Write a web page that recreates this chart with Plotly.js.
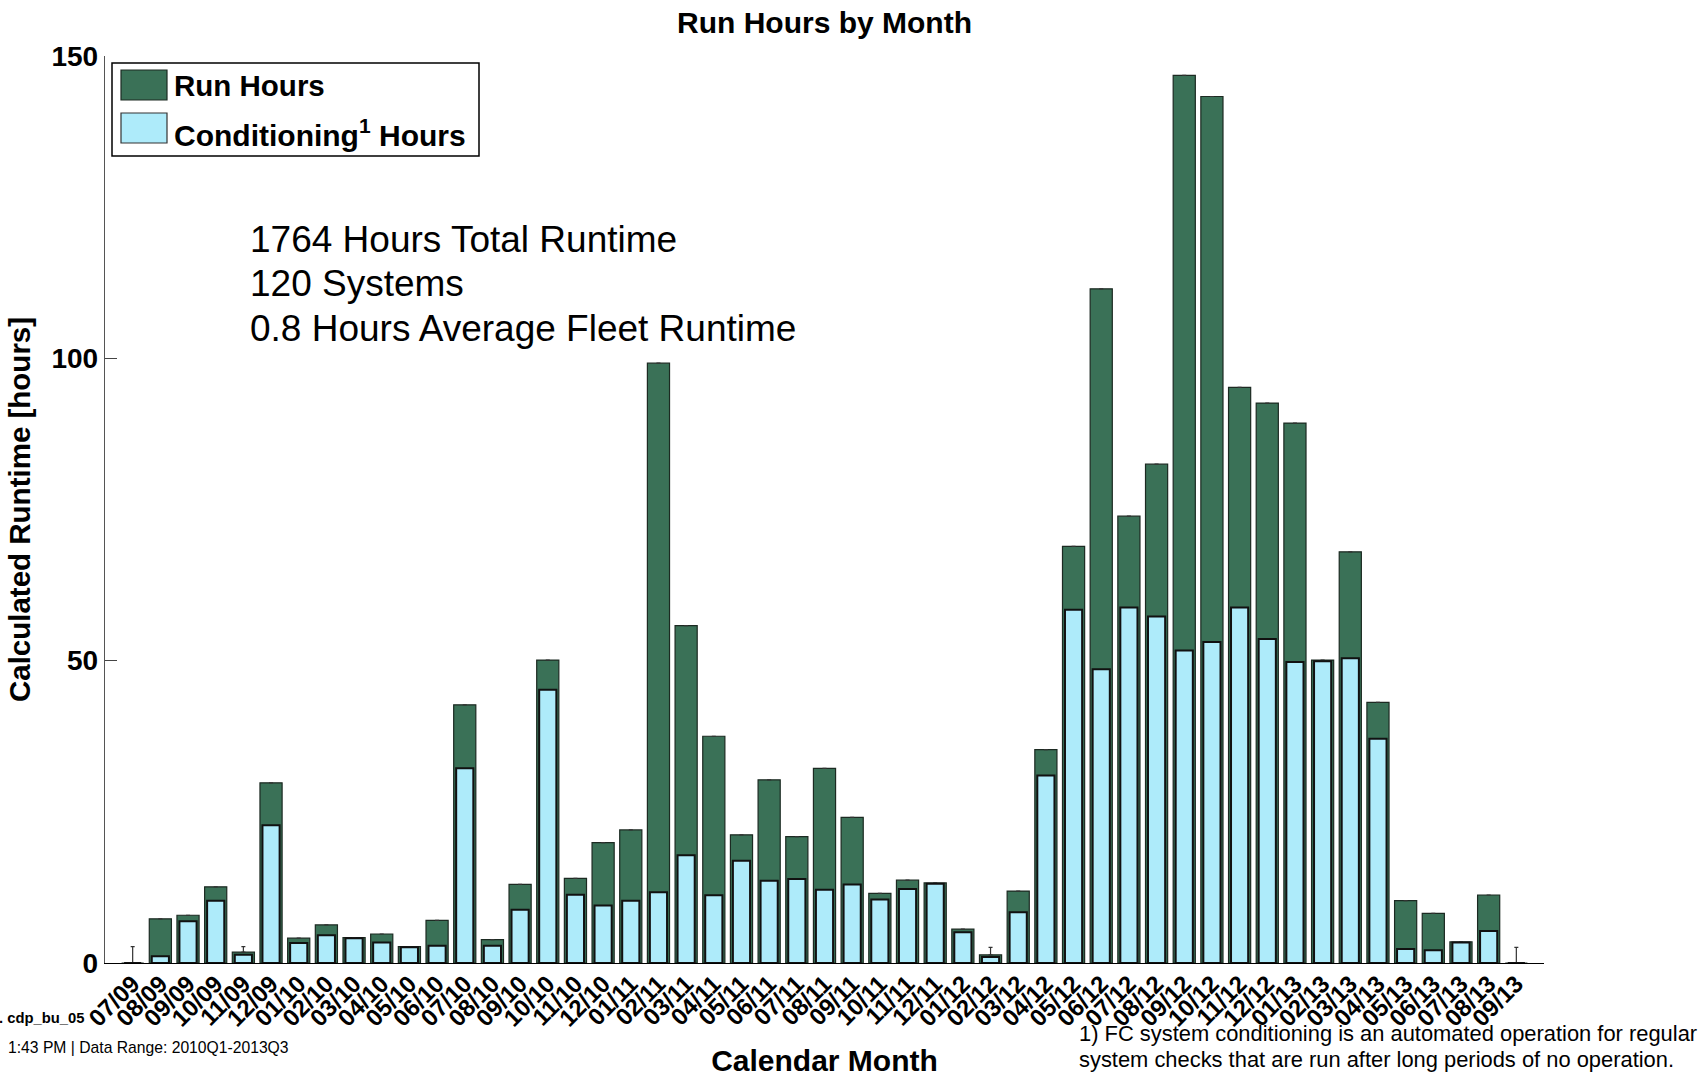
<!DOCTYPE html>
<html>
<head>
<meta charset="utf-8">
<script src="https://cdn.plot.ly/plotly-3.0.1.min.js"></script>
<style>
  html, body { margin: 0; padding: 0; background: #ffffff; }
  #chart { width: 1702px; height: 1077px; }
</style>
</head>
<body>
<div id="chart"></div>
<script>
// ---- data ----
const months = [
  "07/09","08/09","09/09","10/09","11/09","12/09",
  "01/10","02/10","03/10","04/10","05/10","06/10","07/10","08/10","09/10","10/10","11/10","12/10",
  "01/11","02/11","03/11","04/11","05/11","06/11","07/11","08/11","09/11","10/11","11/11","12/11",
  "01/12","02/12","03/12","04/12","05/12","06/12","07/12","08/12","09/12","10/12","11/12","12/12",
  "01/13","02/13","03/13","04/13","05/13","06/13","07/13","08/13","09/13"
];
const runHours = [
  0, 7.3, 7.9, 12.6, 1.8, 29.8,
  4.1, 6.3, 4.2, 4.8, 2.7, 7.05, 42.7, 3.85, 13.0, 50.1, 14.0, 19.9,
  22.0, 99.2, 55.8, 37.5, 21.2, 30.3, 20.9, 32.2, 24.1, 11.5, 13.7, 13.25,
  5.6, 1.35, 11.9, 35.3, 68.9, 111.5, 73.9, 82.5, 146.8, 143.3, 95.2, 92.6,
  89.3, 50.1, 68.0, 43.1, 10.3, 8.2, 3.5, 11.25, 0
];
const conditioningHours = [
  0, 1.1, 6.9, 10.3, 1.35, 22.8,
  3.3, 4.6, 4.1, 3.4, 2.6, 2.85, 32.2, 2.85, 8.8, 45.2, 11.3, 9.5,
  10.3, 11.7, 17.8, 11.2, 16.9, 13.6, 13.9, 12.1, 13.0, 10.5, 12.25, 13.1,
  5.1, 1.0, 8.4, 31.0, 58.4, 48.6, 58.8, 57.3, 51.7, 53.1, 58.8, 53.6,
  49.8, 49.9, 50.4, 37.1, 2.3, 2.1, 3.4, 5.3, 0
];
// small whisker marks above the near-zero months
const smallMarkAbove = [
  2.7, 0, 0, 0, 0.9, 0,
  0, 0, 0, 0, 0, 0, 0, 0, 0, 0, 0, 0,
  0, 0, 0, 0, 0, 0, 0, 0, 0, 0, 0, 0,
  0, 1.25, 0, 0, 0, 0, 0, 0, 0, 0, 0, 0,
  0, 0, 0, 0, 0, 0, 0, 0, 2.6
];
const yTicks = [0, 50, 100, 150];
const seriesNames = ["Run Hours", "Conditioning<sup>1</sup> Hours"];
const summaryLines = ["1764 Hours Total Runtime", "120 Systems", "0.8 Hours Average Fleet Runtime"];
const footnoteLines = [
  "1) FC system conditioning is an automated operation for regular",
  "system checks that are run after long periods of no operation."
];

// ---- layout helpers (pixel -> paper) ----
const W = 1702, H = 1077;
const M = { l: 105, r: 158, t: 56, b: 114 };
const PW = W - M.l - M.r, PH = H - M.t - M.b;
const px = x => (x - M.l) / PW;
const py = y => (H - M.b - y) / PH;

const FONT = "Liberation Sans, Arial, Helvetica, sans-serif";
const RUN_COLOR = "#3A7157";
const COND_COLOR = "#AEEBFA";

const traces = [
  {
    type: "bar", name: seriesNames[0], x: months, y: runHours, width: 0.8,
    marker: { color: RUN_COLOR, line: { color: "#1c2a22", width: 1.2 } },
    error_y: { type: "data", symmetric: false, array: smallMarkAbove,
      arrayminus: smallMarkAbove.map(() => 0), color: "#333", thickness: 1.2, width: 2 },
    showlegend: false, hoverinfo: "x+y"
  },
  {
    type: "bar", name: seriesNames[1], x: months, y: conditioningHours, width: 0.62,
    marker: { color: COND_COLOR, line: { color: "#111111", width: 2 } },
    showlegend: false, hoverinfo: "x+y"
  }
];

const shapes = [
  // legend frame
  { type: "rect", xref: "paper", yref: "paper", x0: px(112), x1: px(479), y0: py(156), y1: py(63),
    line: { color: "#000", width: 1.5 }, fillcolor: "rgba(255,255,255,1)", layer: "above" },
  { type: "rect", xref: "paper", yref: "paper", x0: px(121), x1: px(167), y0: py(100), y1: py(70),
    line: { color: "#1c2a22", width: 1.2 }, fillcolor: RUN_COLOR, layer: "above" },
  { type: "rect", xref: "paper", yref: "paper", x0: px(121), x1: px(167), y0: py(143), y1: py(113),
    line: { color: "#333", width: 1.2 }, fillcolor: COND_COLOR, layer: "above" }
];

const annotations = [
  { text: seriesNames[0], x: px(172), y: py(86), xref: "paper", yref: "paper",
    xanchor: "left", yanchor: "middle", showarrow: false,
    font: { family: FONT, size: 29.5, weight: "bold", color: "#000" } },
  { text: seriesNames[1], x: px(172), y: py(133), xref: "paper", yref: "paper",
    xanchor: "left", yanchor: "middle", showarrow: false,
    font: { family: FONT, size: 30, weight: "bold", color: "#000" } },
  { text: summaryLines[0], x: px(248), y: py(239), xref: "paper", yref: "paper",
    xanchor: "left", yanchor: "middle", showarrow: false,
    font: { family: FONT, size: 37, color: "#000" } },
  { text: summaryLines[1], x: px(248), y: py(283), xref: "paper", yref: "paper",
    xanchor: "left", yanchor: "middle", showarrow: false,
    font: { family: FONT, size: 37, color: "#000" } },
  { text: summaryLines[2], x: px(248), y: py(328), xref: "paper", yref: "paper",
    xanchor: "left", yanchor: "middle", showarrow: false,
    font: { family: FONT, size: 37, color: "#000" } },
  { text: footnoteLines[0], x: px(1077), y: py(1033), xref: "paper", yref: "paper",
    xanchor: "left", yanchor: "middle", showarrow: false,
    font: { family: FONT, size: 21.9, color: "#000" } },
  { text: footnoteLines[1], x: px(1077), y: py(1059), xref: "paper", yref: "paper",
    xanchor: "left", yanchor: "middle", showarrow: false,
    font: { family: FONT, size: 21.9, color: "#000" } },
  { text: ". cdp_bu_05", x: px(-3), y: py(1018), xref: "paper", yref: "paper",
    xanchor: "left", yanchor: "middle", showarrow: false,
    font: { family: FONT, size: 14.8, weight: "bold", color: "#000" } },
  { text: "1:43 PM | Data Range: 2010Q1-2013Q3", x: px(6), y: py(1047), xref: "paper", yref: "paper",
    xanchor: "left", yanchor: "middle", showarrow: false,
    font: { family: FONT, size: 15.7, color: "#000" } }
];

const layout = {
  width: W, height: H,
  margin: M,
  paper_bgcolor: "#ffffff", plot_bgcolor: "#ffffff",
  barmode: "overlay",
  showlegend: false,
  font: { family: FONT, color: "#000" },
  title: {
    text: "Run Hours by Month",
    x: 0.5, xref: "paper", xanchor: "center",
    y: 1 - 22 / H, yref: "container", yanchor: "middle",
    font: { family: FONT, size: 30, weight: "bold", color: "#000" }
  },
  xaxis: {
    type: "category",
    range: [-1, 51],
    tickmode: "array",
    tickvals: months,
    ticktext: months,
    showline: true, linecolor: "#000", linewidth: 1.2,
    ticks: "", showgrid: false, zeroline: false,
    tickangle: -45,
    ticklabelstandoff: -4,
    tickfont: { family: FONT, size: 24, weight: "bold", color: "#000" },
    automargin: false,
    title: { text: "Calendar Month", standoff: 26,
      font: { family: FONT, size: 30, weight: "bold", color: "#000" } }
  },
  yaxis: {
    range: [0, 150],
    tickvals: yTicks,
    ticktext: yTicks.map(String),
    ticks: "inside", ticklen: 12, tickcolor: "#444", tickwidth: 1,
    showline: true, linecolor: "#555", linewidth: 1.2,
    showgrid: false, zeroline: false,
    tickfont: { family: FONT, size: 28, weight: "bold", color: "#000" },
    automargin: false,
    title: { text: "Calculated Runtime [hours]", standoff: 12,
      font: { family: FONT, size: 29.5, weight: "bold", color: "#000" } }
  },
  shapes: shapes,
  annotations: annotations
};

Plotly.newPlot("chart", traces, layout, { displayModeBar: false, staticPlot: true });
</script>
</body>
</html>
